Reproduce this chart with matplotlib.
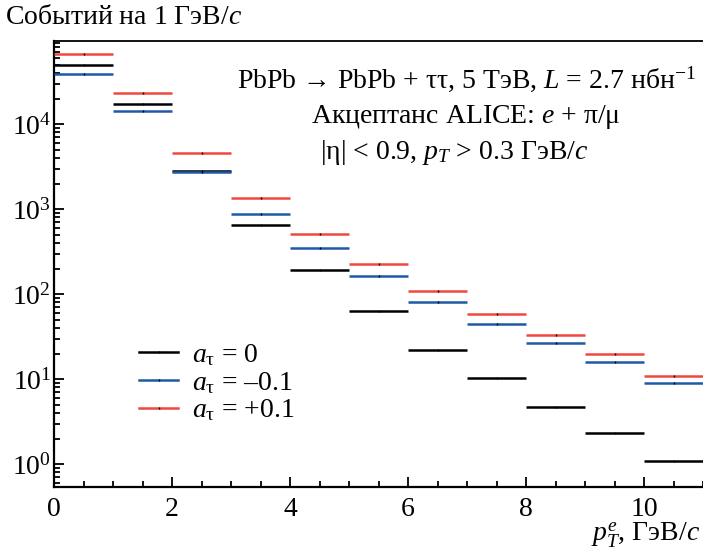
import matplotlib
matplotlib.use("Agg")
import matplotlib.pyplot as plt
import numpy as np
from matplotlib.ticker import MultipleLocator, LogLocator, NullFormatter

plt.rcParams['font.family'] = ['Liberation Serif', 'DejaVu Serif']
plt.rcParams['mathtext.fontset'] = 'custom'
plt.rcParams['mathtext.rm'] = 'Liberation Serif'
plt.rcParams['mathtext.it'] = 'Liberation Serif:italic'
plt.rcParams['mathtext.bf'] = 'Liberation Serif:bold'

# Data
bin_edges = [0, 1, 2, 3, 4, 5, 6, 7, 8, 9, 10, 11]
sm_vals = [49900, 17200, 2800, 649, 195, 64.1, 22.3, 10.2, 4.72, 2.36, 1.10]          # a_tau = 0
minus_vals = [39400, 14300, 2720, 881, 353, 163, 81.1, 45.1, 26.7, 16.1, 9.12]        # a_tau = -0.1
plus_vals = [67100, 23500, 4560, 1346, 516, 227, 109, 58.6, 33.5, 19.9, 11.0]         # a_tau = +0.1
labels = [r'$a_{\mathrm{τ}}$ = 0', r'$a_{\mathrm{τ}}$ = –0.1', r'$a_{\mathrm{τ}}$ = +0.1']
colors = ['black', '#1f5aa6', '#f2473f']

FS = 20

fig = plt.figure(figsize=(7.03, 5.55), dpi=100)
ax = fig.add_axes([54/703, 68/555, 1 - 54/703, (487-41)/555])

edges = np.array(bin_edges, dtype=float)
centers = 0.5 * (edges[:-1] + edges[1:])
series = [sm_vals, minus_vals, plus_vals]
handles = []
for vals, c, lab in zip(series, colors, labels):
    ax.hlines(vals, edges[:-1], edges[1:], colors=c, lw=1.8, zorder=3)
    ax.plot(centers, vals, ls='none', marker='|', ms=2, mew=1.0, color='black', zorder=4)
    h, = ax.plot([], [], color=c, lw=1.8, marker='|', ms=2, mec='black', mew=1.0)
    handles.append(h)

ax.set_yscale('log')
ax.set_xlim(0, 11)
ax.set_ylim(0.54, 9.5e4)

ax.xaxis.set_major_locator(MultipleLocator(2))
ax.xaxis.set_minor_locator(MultipleLocator(0.5))
ax.yaxis.set_major_locator(LogLocator(base=10, numticks=10))
ax.yaxis.set_minor_locator(LogLocator(base=10, subs=np.arange(2, 10), numticks=20))
ax.yaxis.set_minor_formatter(NullFormatter())

ax.tick_params(which='both', direction='in', top=False, right=False, labelsize=FS, width=1.3)
ax.tick_params(which='major', length=7)
ax.tick_params(which='minor', length=4)
ax.tick_params(axis='x', pad=7)
ax.tick_params(axis='y', pad=2)

for s in ['left', 'bottom']:
    ax.spines[s].set_linewidth(1.6)
ax.spines['top'].set_linewidth(1.3)
ax.spines['right'].set_visible(False)

leg = ax.legend(handles, labels, loc='upper left', bbox_to_anchor=(0.114, 0.35),
                frameon=False, fontsize=FS, handlelength=1.4, handletextpad=0.5,
                labelspacing=0.07, borderaxespad=0)

ax.text(0.635, 0.915, r'PbPb → PbPb + ττ, 5 ТэВ, $L$ = 2.7 нбн$^{-1}$', transform=ax.transAxes,
        ha='center', va='center', fontsize=FS)
ax.text(0.635, 0.83, r'Акцептанс ALICE: $e$ + π/μ', transform=ax.transAxes,
        ha='center', va='center', fontsize=FS)
ax.text(0.617, 0.75, r'|η| < 0.9, $p_T$ > 0.3 ГэВ/$c$', transform=ax.transAxes,
        ha='center', va='center', fontsize=FS)

fig.text(5/703, 1 - 18/555, r'Событий на 1 ГэВ/$c$', ha='left', va='center', fontsize=FS)
fig.text(700/703, 1 - 535/555, r'$p_T^e$, ГэВ/$c$', ha='right', va='center', fontsize=FS)

fig.savefig('out.png', dpi=100)
